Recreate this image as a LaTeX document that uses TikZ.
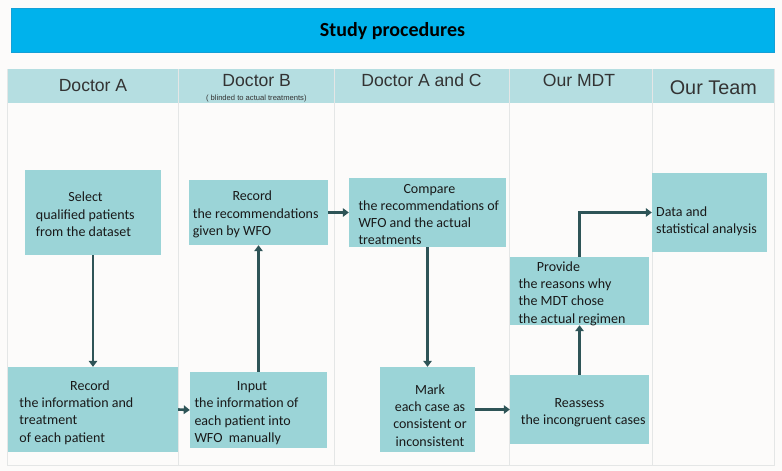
\documentclass[tikz,border=0pt]{standalone}
\usepackage{fontspec}
\setmainfont{Carlito}
\newfontfamily\headfont{Liberation Sans}
\usepackage{xcolor}
\usepackage{tikz}
\usetikzlibrary{positioning,fit,arrows.meta}

\definecolor{titlebar}{RGB}{0,178,236}
\definecolor{titleline}{RGB}{20,160,215}
\definecolor{headfill}{RGB}{181,222,225}
\definecolor{boxfill}{RGB}{155,212,215}
\definecolor{flowcol}{RGB}{46,84,87}
\definecolor{gridcol}{RGB}{228,230,230}
\definecolor{bgcol}{RGB}{252,251,250}
\definecolor{headtext}{RGB}{51,51,51}
\definecolor{boxtext}{RGB}{25,25,25}

\tikzset{
  stepbox/.style={fill=boxfill, inner sep=0pt},
  steptext/.style={text=boxtext, font=\fontsize{14}{17.3}\selectfont, align=left, inner sep=0pt, anchor=west},
  colhead/.style={text=headtext, font=\headfont\fontsize{17.6}{20}\selectfont, inner sep=0pt},
  flow/.style={draw=flowcol, line width=2.6pt, -{Triangle[length=6pt,width=8.5pt]}},
}

\begin{document}
\begin{tikzpicture}[x=1pt,y=-1pt]
    \useasboundingbox (0,0) rectangle (782,471);
    \fill[bgcol] (0,0) rectangle (782,471);

    % title
    \draw[titleline, fill=titlebar] (11,8) rectangle (774,52);
    \node[font=\bfseries\fontsize{20}{24}\selectfont, inner sep=0pt] (title) at (392.5,31.5) {Study procedures};

    % lanes
    \fill[headfill] (7,69) rectangle (774,103);
    \draw[gridcol] (7,69) -- (7,465) -- (774,465) -- (774,69);
    \foreach \x in {178,334,509,652}
        \draw[gridcol] (\x,69) -- (\x,465);

    \node[colhead] (docA) at (93,86) {Doctor A};
    \node[colhead] (docB) at (256.7,81) {Doctor B};
    \node[text=headtext, font=\headfont\fontsize{7.6}{9}\selectfont, inner sep=0pt] (blind) at (256.3,98.7) {( blinded to actual treatments)};
    \node[colhead] (docAC) at (421.5,80.3) {Doctor A and C};
    \node[colhead] (mdt) at (579,80) {Our MDT};
    \node[colhead, font=\headfont\fontsize{19.8}{22}\selectfont] (team) at (713.3,88) {Our Team};

    % boxes
    \node[stepbox, fit={(25,170) (161,255)}] (select) {};
    \node[stepbox, fit={(8,367) (178,452)}] (record) {};
    \node[stepbox, fit={(189,180) (328,245)}] (recs) {};
    \node[stepbox, fit={(190,372) (327,448)}] (input) {};
    \node[stepbox, fit={(349,178) (506,247)}] (compare) {};
    \node[stepbox, fit={(380,367) (475,452)}] (mark) {};
    \node[stepbox, fit={(510,375) (649,444)}] (reassess) {};
    \node[stepbox, fit={(510,257) (649,325)}] (provide) {};
    \node[stepbox, fit={(652,173) (767,252)}] (data) {};

    \node[steptext] (selecttxt) at (35.7,214.3) {\hspace*{32.6pt}Select\\qualified patients\\from the dataset};
    \node[steptext] (recordtxt) at (19.3,412.5) {\hspace*{50.7pt}Record\\the information and\\treatment\\of each patient};
    \node[steptext] (recstxt) at (192.7,214.5) {\hspace*{39.6pt}Record\\the recommendations\\given by WFO};
    \node[steptext] (inputtxt) at (194.3,413) {\hspace*{42.4pt}Input\\the information of\\each patient into\\WFO\ \ manually};
    \node[steptext] (comparetxt) at (358.3,214.5) {\hspace*{45pt}Compare\\the recommendations of\\WFO and the actual\\treatments};
    \node[steptext, align=center, anchor=center] (marktxt) at (430,415.5) {Mark\\each case as\\consistent or\\inconsistent};
    \node[steptext] (reassesstxt) at (520.7,412.5) {\hspace*{33.6pt}Reassess\\the incongruent cases};
    \node[steptext] (providetxt) at (518.3,293.5) {\hspace*{18.4pt}Provide\\the reasons why\\the MDT chose\\the actual regimen};
    \node[steptext] (datatxt) at (656,221) {Data and\\statistical analysis};

    % flow
    \draw[flow] (select) -- (record);
    \draw[flow] (record.east) -- (input.west);
    \draw[flow] (input) -- (recs);
    \draw[flow] (recs) -- (compare);
    \draw[flow] (compare) -- (mark);
    \draw[flow] (mark) -- (reassess);
    \draw[flow] (reassess) -- (provide);
    \draw[flow] (provide.north) |- (data.west);
\end{tikzpicture}
\end{document}
